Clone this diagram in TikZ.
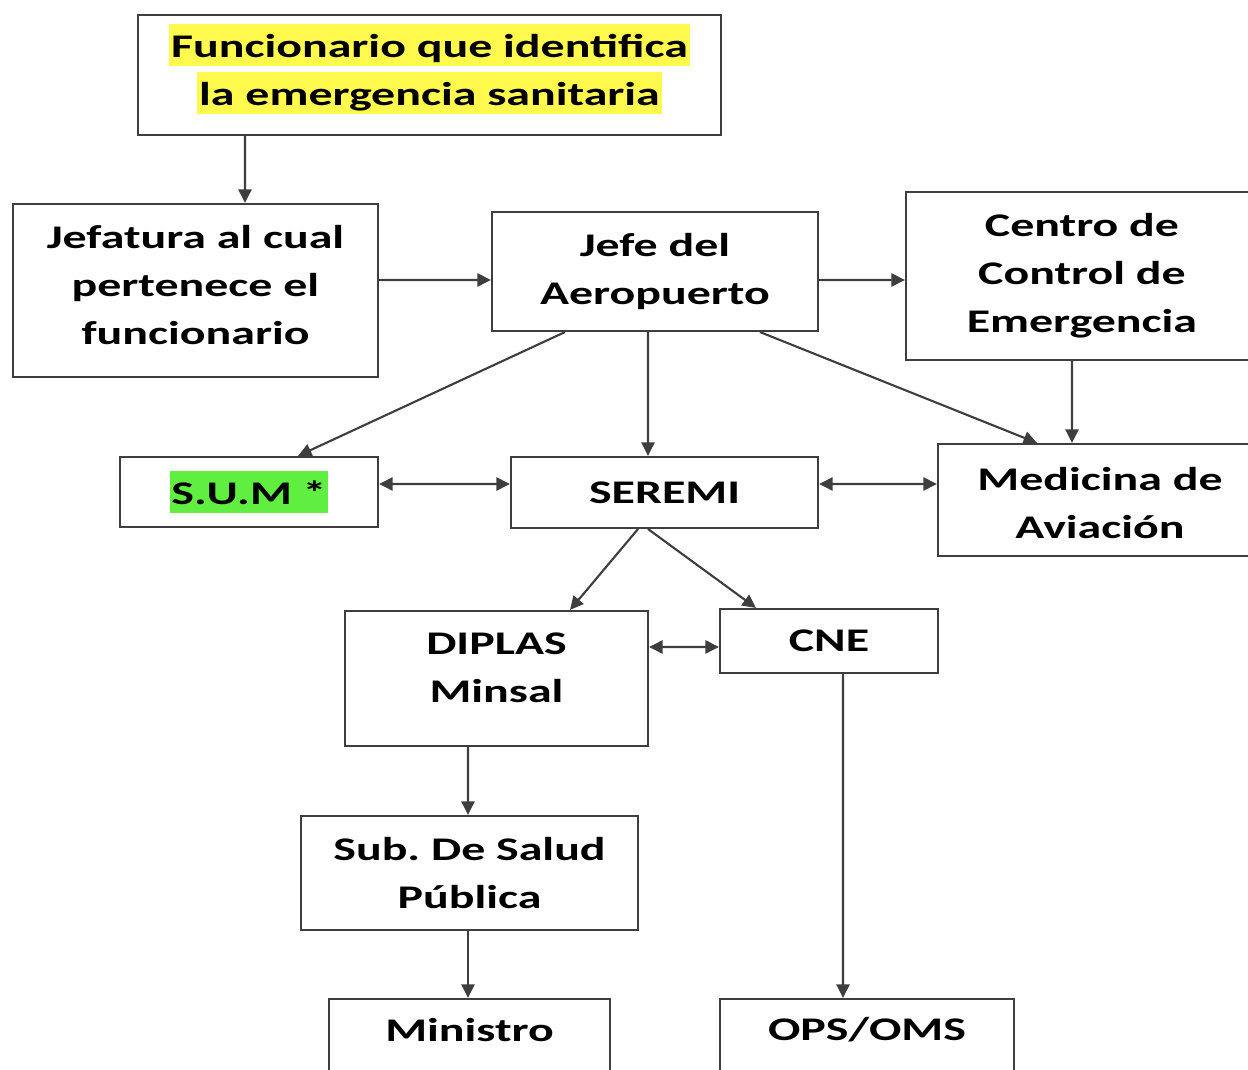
\documentclass[tikz,border=0pt]{standalone}
\usepackage{fontspec}
\newfontfamily\boxfont[FakeStretch=1.45]{Carlito}
\usetikzlibrary{arrows.meta}
\definecolor{hlyellow}{RGB}{255,248,77}
\definecolor{hlgreen}{RGB}{96,238,64}
\definecolor{linegray}{RGB}{62,62,62}
\newcommand{\hlbox}[2]{{\setlength{\fboxsep}{1pt}\colorbox{#1}{\rule[-3.8pt]{0pt}{21.8pt}#2}}}
\frenchspacing
\begin{document}
\begin{tikzpicture}[x=0.02cm,y=-0.02cm,
	box/.style={draw=linegray,line width=1.2pt,inner sep=0pt},
	txt/.style={font=\boxfont\bfseries\fontsize{18.8}{27.3}\selectfont,align=center,inner sep=0pt},
	arr/.style={draw=linegray,line width=1.2pt,-{Triangle[length=0.27cm,width=0.26cm]}},
	darr/.style={arr,{Triangle[length=0.27cm,width=0.26cm]}-{Triangle[length=0.27cm,width=0.26cm]}}]
	\useasboundingbox (0,0) rectangle (1248,1070);
	\clip (0,0) rectangle (1248,1070);
	%TOP
	\node[box,minimum width=11.66cm,minimum height=2.4cm] (func) at (429.5,75) {};
	\node[txt] (func-t) at (429.5,69) {\hlbox{hlyellow}{Funcionario que identifica}\\\hlbox{hlyellow}{la emergencia sanitaria}};
	\node[box,minimum width=7.3cm,minimum height=3.46cm] (jefa) at (195.5,290.5) {};
	\node[txt] (jefa-t) at (195.5,285.5) {Jefatura al cual\\pertenece el\\funcionario};
	\node[box,txt,minimum width=6.52cm,minimum height=2.38cm] (jefe) at (655,271.5) {Jefe del\\Aeropuerto};
	\node[box,txt,minimum width=7.04cm,minimum height=3.36cm] (centro) at (1082,276) {Centro de\\Control de\\Emergencia};
	%MIDDLE
	\node[box,txt,minimum width=5.16cm,minimum height=1.4cm] (sum) at (249,492) {\hlbox{hlgreen}{S.U.M *}};
	\node[box,txt,minimum width=6.14cm,minimum height=1.42cm] (seremi) at (664.5,492.5) {SEREMI};
	\node[box,minimum width=6.48cm,minimum height=2.24cm] (medicina) at (1100,500) {};
	\node[txt] (medicina-t) at (1100,503) {Medicina de\\Aviación};
	\node[box,minimum width=6.06cm,minimum height=2.7cm] (diplas) at (496.5,678.5) {};
	\node[txt] (diplas-t) at (496.5,668) {DIPLAS\\Minsal};
	\node[box,txt,minimum width=4.36cm,minimum height=1.28cm] (cne) at (829,641) {CNE};
	%BOTTOM
	\node[box,txt,minimum width=6.74cm,minimum height=2.28cm] (sub) at (469.5,873) {Sub. De Salud\\Pública};
	\node[box,minimum width=5.62cm,minimum height=2.6cm] (ministro) at (469.5,1064) {};
	\node[txt] (ministro-t) at (469.5,1030) {Ministro};
	\node[box,minimum width=5.88cm,minimum height=2.6cm] (ops) at (867,1064) {};
	\node[txt] (ops-t) at (867,1030) {OPS/OMS};
	%ARROWS
	\draw[arr] ([xshift=-3.69cm]func.south) -- ([xshift=0.99cm]jefa.north);
	\draw[arr] ([yshift=0.21cm]jefa.east) -- ([yshift=-0.17cm]jefe.west);
	\draw[arr] ([yshift=-0.17cm]jefe.east) -- ([yshift=-0.08cm]centro.west);
	\draw[arr] ([xshift=-0.14cm]jefe.south) -- ([xshift=-0.33cm]seremi.north);
	\draw[arr] ([xshift=-1.8cm]jefe.south) -- ([xshift=0.98cm]sum.north);
	\draw[arr] ([xshift=2.1cm]jefe.south) -- ([xshift=-1.26cm]medicina.north);
	\draw[arr] ([xshift=-0.2cm]centro.south) -- ([xshift=-0.56cm]medicina.north);
	\draw[darr] ([yshift=0.16cm]sum.east) -- ([yshift=0.17cm]seremi.west);
	\draw[darr] ([yshift=0.17cm]seremi.east) -- ([yshift=0.32cm]medicina.west);
	\draw[arr] ([xshift=-0.53cm]seremi.south) -- ([xshift=1.47cm]diplas.north);
	\draw[arr] ([xshift=-0.33cm]seremi.south) -- ([xshift=-1.46cm]cne.north);
	\draw[darr] ([yshift=0.63cm]diplas.east) -- ([yshift=-0.12cm]cne.west);
	\draw[arr] ([xshift=-0.57cm]diplas.south) -- ([xshift=-0.03cm]sub.north);
	\draw[arr] ([xshift=-0.03cm]sub.south) -- ([xshift=-0.03cm]ministro.north);
	\draw[arr] ([xshift=0.28cm]cne.south) -- ([xshift=-0.48cm]ops.north);
\end{tikzpicture}
\end{document}
